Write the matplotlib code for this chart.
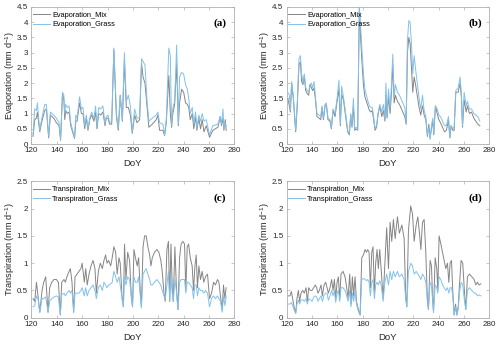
import matplotlib
matplotlib.use('Agg')
import matplotlib.pyplot as plt
from matplotlib.ticker import FuncFormatter

plt.rcParams['font.family'] = 'Liberation Sans'
plt.rcParams['mathtext.default'] = 'regular'

MIX_COLOR = '#858585'
GRASS_COLOR = '#82c1ea'
FRAME_COLOR = '#b0b0b0'

# (a) evaporation, site 1
doy_a = [121.3, 122.6, 124.0, 124.7, 126.6, 128.0, 130.5, 131.8, 133.6, 135.0, 137.6, 139.7,
         141.8, 143.0, 144.5, 145.6, 146.3, 147.0, 148.3, 149.7, 151.0, 152.8, 154.0, 155.0,
         156.0, 158.0, 159.4, 160.7, 162.0, 163.3, 164.6, 166.0, 167.5, 169.3, 170.6, 171.7,
         173.0, 174.6, 176.4, 178.0, 179.0, 180.4, 181.7, 183.3, 185.0, 187.0, 188.5, 190.0,
         191.7, 193.3, 194.8, 196.4, 198.0, 199.5, 201.4, 203.2, 205.3, 206.8, 208.0, 209.5,
         211.0, 212.6, 215.3, 218.4, 219.7, 221.0, 223.7, 225.0, 226.3, 228.3, 229.5, 230.5,
         231.5, 232.9, 234.5, 235.8, 236.8, 238.4, 240.0, 241.5, 242.9, 244.0, 245.2, 246.8,
         248.0, 249.4, 250.4, 252.0, 253.3, 254.6, 256.0, 257.8, 260.4, 263.0, 267.0, 268.8,
         269.8, 271.0, 271.7, 272.8, 273.5]
evap_mix_a = [0.25, 0.8, 0.85, 1.05, 0.4, 0.7, 1.1, 1.15, 0.2, 0.95, 0.85, 0.7,
              0.6, 0.12, 1.65, 1.45, 0.8, 1.1, 1.0, 1.05, 0.6, 0.35, 0.18, 0.75,
              0.75, 1.35, 1.0, 1.0, 0.5, 0.85, 0.45, 0.8, 0.95, 0.75, 1.05, 0.5,
              1.0, 0.95, 1.05, 0.6, 0.85, 0.85, 0.65, 0.65, 3.1, 0.9, 0.45, 1.6,
              0.75, 2.75, 1.2, 1.2, 0.95, 0.35, 0.95, 0.7, 0.8, 2.65, 2.2, 2.0,
              1.3, 0.55, 0.65, 0.8, 0.95, 0.45, 0.45, 0.28, 0.7, 2.25, 1.0, 0.55,
              1.0, 1.3, 2.65, 0.6, 1.35, 1.8, 1.7, 1.35, 1.3, 1.2, 0.8, 1.0,
              0.5, 0.9, 0.45, 0.85, 0.5, 0.8, 0.4, 0.6, 0.22, 0.45, 0.55, 0.9,
              0.6, 0.85, 0.45, 0.8, 0.45]
evap_grass_a = [0.3, 1.15, 1.1, 1.35, 0.45, 0.8, 1.3, 1.3, 0.25, 1.05, 0.95, 0.85,
                0.7, 0.15, 1.7, 1.6, 1.0, 1.3, 1.2, 1.25, 0.7, 0.4, 0.2, 0.95,
                0.85, 1.55, 1.15, 1.2, 0.6, 0.95, 0.5, 0.85, 1.05, 0.85, 1.25, 0.55,
                1.2, 1.15, 1.25, 0.65, 0.9, 0.95, 0.7, 0.75, 3.15, 1.0, 0.5, 1.6,
                0.8, 3.0, 1.4, 1.6, 1.25, 0.4, 1.15, 0.85, 0.85, 2.8, 2.7, 2.6,
                1.5, 0.75, 0.85, 0.95, 1.05, 0.7, 0.65, 0.3, 0.8, 3.15, 2.9, 0.6,
                1.2, 1.4, 3.25, 0.65, 2.2, 2.35, 2.3, 1.95, 1.8, 1.5, 1.0, 1.2,
                0.65, 1.05, 0.5, 0.95, 0.75, 1.0, 0.75, 0.8, 0.3, 0.6, 0.65, 0.9,
                0.65, 1.15, 0.5, 0.7, 0.6]

# (b) evaporation, site 2
doy_b = [120.8, 122.1, 122.9, 123.9, 125.2, 127.1, 128.4, 129.7, 130.8, 131.8, 132.9, 133.9,
         135.0, 136.3, 137.4, 138.4, 139.5, 140.5, 141.6, 142.6, 143.9, 145.5, 146.9, 147.9,
         149.0, 150.3, 151.3, 152.6, 154.2, 155.3, 156.6, 158.2, 159.8, 161.3, 162.4, 163.4,
         165.0, 166.6, 168.2, 169.5, 170.6, 171.6, 172.7, 173.7, 175.1, 176.1, 177.4, 178.5,
         179.6, 180.7, 181.8, 183.0, 184.2, 185.4, 186.5, 187.6, 188.7, 189.8, 191.0, 192.3,
         193.6, 195.1, 196.4, 197.6, 198.4, 199.3, 200.4, 201.7, 202.8, 203.8, 204.9, 205.9,
         207.5, 209.1, 210.7, 212.2, 213.3, 214.4, 215.4, 216.5, 217.5, 218.6, 219.6, 220.7,
         222.0, 223.3, 224.6, 225.9, 227.3, 228.6, 229.9, 231.2, 232.3, 233.3, 234.4, 235.4,
         236.2, 237.5, 238.9, 240.2, 241.5, 243.1, 244.7, 246.2, 247.8, 248.9, 249.9, 251.2,
         252.3, 253.6, 255.5, 257.0, 258.1, 258.9, 260.2, 261.8, 262.8, 264.4, 266.0, 267.8,
         269.4, 271.0, 272.6]
evap_mix_b = [1.5, 1.25, 1.05, 2.0, 1.5, 0.4, 1.3, 2.6, 2.7, 2.05, 1.95, 2.25,
              1.75, 1.65, 1.6, 1.95, 1.85, 1.75, 1.85, 1.5, 0.9, 0.85, 0.8, 1.2,
              0.8, 1.25, 1.3, 0.8, 0.75, 0.5, 1.1, 0.9, 1.4, 1.8, 0.6, 1.65,
              1.4, 0.9, 0.4, 0.3, 0.95, 0.55, 1.25, 0.45, 0.5, 0.45, 4.5, 3.4,
              2.6, 1.9, 1.55, 1.4, 1.25, 1.1, 1.05, 1.1, 0.8, 0.45, 0.55, 1.0,
              1.25, 0.9, 1.1, 0.75, 1.6, 0.85, 1.55, 1.0, 1.7, 2.6, 1.35, 1.6,
              1.4, 1.3, 1.15, 1.0, 0.9, 0.65, 3.0, 3.5, 3.3, 2.5, 1.7, 2.2,
              1.9, 1.55, 1.2, 0.95, 1.25, 0.95, 0.8, 0.25, 0.65, 0.2, 0.5, 0.8,
              0.3, 1.25, 1.0, 0.8, 0.7, 0.55, 0.4, 0.45, 0.8, 0.2, 0.6, 0.45,
              0.45, 1.7, 1.7, 2.0, 1.5, 0.55, 1.45, 1.05, 1.25, 1.0, 1.05, 0.85,
              0.75, 0.65, 0.6]
evap_grass_b = [1.7, 1.6, 1.1, 2.05, 1.6, 0.45, 1.4, 2.8, 2.9, 2.3, 2.0, 2.3,
                1.85, 1.75, 1.7, 1.95, 2.0, 1.85, 2.05, 1.6, 1.0, 0.95, 0.9, 1.25,
                0.85, 1.3, 1.35, 0.85, 0.8, 0.55, 1.15, 1.0, 1.5, 2.1, 0.65, 1.9,
                1.5, 1.0, 0.45, 0.35, 1.0, 0.6, 1.5, 0.5, 0.55, 0.45, 4.5, 3.8,
                3.0, 2.3, 1.8, 1.6, 1.4, 1.25, 1.2, 1.2, 0.9, 0.5, 0.6, 1.05,
                1.3, 1.05, 1.3, 0.8, 2.0, 0.9, 1.8, 1.15, 2.0, 2.95, 1.55, 1.95,
                1.7, 1.6, 1.45, 1.3, 1.2, 0.7, 3.4, 4.05, 4.0, 3.3, 2.3, 2.9,
                2.4, 1.95, 1.5, 1.15, 1.6, 1.1, 0.9, 0.3, 0.55, 0.15, 0.6, 0.85,
                0.35, 1.25, 1.15, 0.95, 0.9, 0.75, 0.6, 0.6, 0.9, 0.2, 0.6, 0.5,
                0.55, 1.75, 1.85, 2.2, 1.6, 0.6, 1.7, 1.25, 1.4, 1.15, 1.15, 1.0,
                0.95, 0.9, 0.75]

# (c) transpiration, site 1
doy_c = [121.3, 122.6, 124.0, 125.2, 126.6, 128.4, 129.7, 131.3, 133.1, 134.4, 136.0, 137.8,
         139.7, 141.3, 142.8, 143.9, 145.7, 146.8, 148.0, 149.7, 150.7, 152.0, 153.3, 154.4,
         156.0, 157.5, 159.0, 160.0, 161.7, 162.8, 164.0, 165.4, 167.0, 168.6, 170.1, 171.2,
         172.8, 174.3, 175.9, 177.2, 178.5, 179.6, 180.9, 182.5, 183.7, 185.0, 186.4, 187.6,
         189.0, 190.0, 191.4, 192.5, 193.4, 194.5, 195.9, 197.4, 198.7, 199.7, 200.8, 202.0,
         203.4, 204.5, 205.8, 206.7, 208.0, 209.2, 210.5, 211.8, 213.2, 214.2, 215.3, 217.0,
         218.9, 220.5, 222.0, 223.1, 224.5, 225.5, 226.8, 228.0, 229.0, 230.0, 231.0, 231.8,
         233.1, 234.2, 235.5, 236.8, 238.0, 239.4, 240.7, 241.7, 242.8, 243.9, 245.2, 246.7,
         247.8, 248.9, 249.9, 250.9, 252.0, 253.3, 254.6, 255.9, 257.2, 258.8, 260.4, 262.0,
         263.6, 265.1, 266.7, 267.8, 269.0, 270.4, 271.4, 272.5, 273.5]
trans_mix_c = [0.35, 0.3, 0.65, 0.4, 0.1, 0.5, 0.65, 0.75, 0.1, 0.55, 0.65, 0.7,
               0.7, 0.65, 0.05, 0.65, 0.7, 0.65, 0.75, 0.85, 0.9, 0.65, 0.1, 0.75,
               0.8, 0.85, 0.9, 1.0, 0.65, 0.9, 0.6, 0.8, 0.95, 1.05, 0.9, 0.45,
               0.85, 1.0, 0.9, 1.05, 1.15, 1.0, 1.05, 0.95, 1.1, 1.3, 1.2, 0.8,
               1.1, 1.0, 0.4, 0.2, 1.35, 0.7, 1.2, 1.05, 0.4, 0.2, 1.25, 1.1,
               0.95, 1.1, 0.5, 0.2, 1.3, 1.5, 1.5, 1.3, 1.15, 0.95, 1.1, 1.2,
               1.25, 1.2, 1.05, 0.85, 0.45, 0.3, 1.25, 1.4, 0.3, 1.35, 0.55, 0.3,
               1.3, 0.6, 0.15, 1.1, 1.35, 1.4, 1.35, 0.5, 1.3, 1.35, 1.1, 0.95,
               0.5, 0.95, 1.15, 0.55, 0.95, 0.7, 0.85, 0.65, 0.75, 0.8, 0.35, 0.45,
               0.65, 0.6, 0.7, 0.65, 0.4, 0.15, 0.6, 0.35, 0.55]
trans_grass_c = [0.2, 0.22, 0.4, 0.35, 0.1, 0.35, 0.35, 0.38, 0.1, 0.3, 0.35, 0.38,
                 0.4, 0.38, 0.05, 0.42, 0.45, 0.4, 0.45, 0.5, 0.45, 0.5, 0.1, 0.45,
                 0.45, 0.45, 0.5, 0.55, 0.4, 0.55, 0.4, 0.5, 0.55, 0.6, 0.5, 0.35,
                 0.55, 0.6, 0.5, 0.65, 0.6, 0.55, 0.6, 0.62, 0.65, 0.85, 0.75, 0.65,
                 0.75, 0.6, 0.35, 0.2, 0.75, 0.6, 0.75, 0.7, 0.4, 0.2, 0.75, 0.65,
                 0.65, 0.75, 0.4, 0.18, 0.8, 0.85, 0.9, 0.8, 0.7, 0.6, 0.6, 0.65,
                 0.7, 0.65, 0.6, 0.5, 0.4, 0.35, 0.6, 0.85, 0.3, 0.75, 0.45, 0.3,
                 0.7, 0.5, 0.15, 0.65, 0.7, 0.7, 0.7, 0.45, 0.65, 0.65, 0.6, 0.55,
                 0.35, 0.6, 0.6, 0.4, 0.55, 0.5, 0.5, 0.45, 0.5, 0.45, 0.2, 0.35,
                 0.4, 0.35, 0.4, 0.35, 0.3, 0.1, 0.4, 0.22, 0.4]

# (d) transpiration, site 2
doy_d = [121.3, 122.6, 123.7, 124.7, 125.8, 127.1, 128.1, 129.2, 130.2, 131.3, 132.6, 133.9,
         135.3, 136.3, 137.4, 138.7, 140.0, 141.3, 142.6, 143.7, 144.7, 145.8, 147.1, 148.2,
         149.5, 150.8, 151.9, 152.9, 154.2, 155.5, 156.6, 157.7, 158.7, 159.8, 160.8, 161.9,
         162.9, 164.5, 166.1, 167.4, 168.5, 169.8, 170.8, 171.9, 172.9, 174.0, 175.1, 176.6,
         178.0, 179.3, 180.6, 181.9, 183.0, 184.0, 185.1, 186.1, 187.2, 188.2, 189.3, 190.3,
         191.4, 192.4, 193.5, 194.6, 196.2, 197.6, 199.0, 200.4, 201.7, 203.0, 204.3, 205.7,
         207.5, 209.0, 211.0, 212.8, 214.0, 214.9, 216.2, 218.0, 219.4, 220.7, 222.3, 223.6,
         224.9, 226.0, 227.3, 228.6, 229.9, 231.2, 232.0, 233.3, 234.4, 235.2, 236.0, 237.3,
         238.6, 239.4, 240.4, 241.8, 243.1, 244.4, 245.7, 247.0, 248.1, 249.1, 250.2, 251.2,
         252.3, 253.4, 254.4, 255.5, 256.5, 257.8, 259.1, 260.5, 261.5, 262.8, 264.4, 266.3,
         268.1, 269.4, 270.7, 272.0, 273.4]
trans_mix_d = [0.4, 0.4, 0.48, 0.35, 0.2, 0.08, 0.35, 0.5, 0.3, 0.45, 0.5, 0.45,
               0.55, 0.3, 0.55, 0.5, 0.5, 0.55, 0.6, 0.55, 0.45, 0.5, 0.6, 0.4,
               0.6, 0.65, 0.55, 0.45, 0.55, 0.7, 0.5, 0.7, 0.35, 0.65, 0.75, 0.35,
               0.8, 0.85, 0.75, 0.55, 0.35, 0.8, 0.25, 0.75, 0.4, 0.75, 0.3, 0.15,
               0.05, 1.1, 1.15, 1.25, 1.2, 1.25, 1.2, 0.55, 1.2, 1.3, 0.45, 1.0,
               1.25, 0.9, 1.25, 0.9, 0.35, 1.0, 1.65, 0.9, 1.75, 1.4, 1.8, 1.45,
               1.85, 1.55, 1.7, 1.45, 0.4, 0.2, 1.6, 2.05, 1.9, 1.4, 1.7, 1.85,
               1.55, 1.25, 1.75, 1.8, 1.2, 0.3, 0.15, 1.05, 0.95, 0.4, 0.1, 1.1,
               0.9, 0.5, 1.5, 1.35, 1.2, 1.05, 0.9, 1.0, 0.65, 1.0, 1.05, 0.5,
               0.05, 0.25, 0.05, 0.2, 0.6, 1.05, 1.0, 0.45, 0.15, 0.75, 0.8, 0.75,
               0.7, 0.6, 0.65, 0.6, 0.62]
trans_grass_d = [0.25, 0.25, 0.28, 0.22, 0.15, 0.08, 0.25, 0.32, 0.25, 0.32, 0.33, 0.3,
                 0.35, 0.25, 0.35, 0.33, 0.3, 0.38, 0.4, 0.38, 0.3, 0.35, 0.4, 0.3,
                 0.42, 0.45, 0.45, 0.32, 0.4, 0.5, 0.4, 0.5, 0.28, 0.45, 0.5, 0.3,
                 0.55, 0.55, 0.5, 0.4, 0.3, 0.5, 0.2, 0.45, 0.3, 0.5, 0.25, 0.12,
                 0.05, 0.7, 0.72, 0.7, 0.68, 0.7, 0.65, 0.4, 0.65, 0.7, 0.35, 0.6,
                 0.65, 0.6, 0.68, 0.6, 0.3, 0.65, 0.8, 0.6, 0.85, 0.7, 0.85, 0.75,
                 0.85, 0.75, 0.8, 0.7, 0.35, 0.2, 0.85, 1.0, 0.95, 0.8, 0.85, 0.8,
                 0.75, 0.7, 0.8, 0.75, 0.65, 0.3, 0.15, 0.65, 0.6, 0.35, 0.1, 0.6,
                 0.55, 0.45, 0.75, 0.7, 0.6, 0.55, 0.5, 0.55, 0.45, 0.55, 0.55, 0.4,
                 0.05, 0.2, 0.05, 0.15, 0.45, 0.65, 0.6, 0.3, 0.15, 0.5, 0.55, 0.5,
                 0.45, 0.45, 0.4, 0.42, 0.4]

x_ticks = [120, 140, 160, 180, 200, 220, 240, 260, 280]


def draw_panel(ax, doy, mix, grass, labels, ylabel, ymax, tag):
    ax.plot(doy, mix, color=MIX_COLOR, linewidth=0.7, label=labels[0])
    ax.plot(doy, grass, color=GRASS_COLOR, linewidth=0.7, label=labels[1])

    ax.set_xlim(120, 280)
    ax.set_ylim(0, ymax)
    ax.set_xticks(x_ticks)
    ax.set_yticks([i * 0.5 for i in range(int(ymax / 0.5) + 1)])
    ax.yaxis.set_major_formatter(FuncFormatter(lambda v, p: '%g' % v))

    for s in ax.spines.values():
        s.set_color(FRAME_COLOR)
        s.set_linewidth(0.6)
    ax.tick_params(direction='in', length=2, width=0.5, color=FRAME_COLOR,
                   labelsize=5.8, labelcolor='#262626', pad=2.5,
                   top=True, right=True)

    ax.set_xlabel('DoY', fontsize=6.8, color='#262626')
    ax.set_ylabel(ylabel, fontsize=6.6, color='#262626')
    ax.xaxis.set_label_coords(0.5, -0.113)
    ax.yaxis.set_label_coords(-0.073, 0.5)

    ax.legend(loc='upper left', bbox_to_anchor=(0.0, 0.975), frameon=False,
              fontsize=5.3, handlelength=2.3, handletextpad=0.3,
              labelspacing=0.3, borderaxespad=0, borderpad=0.2)
    ax.text(0.93, 0.88, tag, transform=ax.transAxes, ha='center', va='center',
            fontsize=8, fontweight='bold', family='Liberation Serif')


fig = plt.figure(figsize=(5, 3.47), dpi=100)
ax_a = fig.add_axes([0.0628, 0.585, 0.406, 0.395])
ax_b = fig.add_axes([0.5734, 0.585, 0.405, 0.395])
ax_c = fig.add_axes([0.0628, 0.0844, 0.406, 0.393])
ax_d = fig.add_axes([0.5734, 0.0844, 0.405, 0.393])

evap_label = 'Evaporation (mm d$^{-1}$)'
trans_label = 'Transpiration (mm d$^{-1}$)'

draw_panel(ax_a, doy_a, evap_mix_a, evap_grass_a,
           ['Evaporation_Mix', 'Evaporation_Grass'], evap_label, 4.5, '(a)')
draw_panel(ax_b, doy_b, evap_mix_b, evap_grass_b,
           ['Evaporation_Mix', 'Evaporation_Grass'], evap_label, 4.5, '(b)')
draw_panel(ax_c, doy_c, trans_mix_c, trans_grass_c,
           ['Transpiration_Mix', 'Transpiration_Grass'], trans_label, 2.5, '(c)')
draw_panel(ax_d, doy_d, trans_mix_d, trans_grass_d,
           ['Transpiration_Mix', 'Transpiration_Grass'], trans_label, 2.5, '(d)')

fig.savefig('out.png', dpi=100)
